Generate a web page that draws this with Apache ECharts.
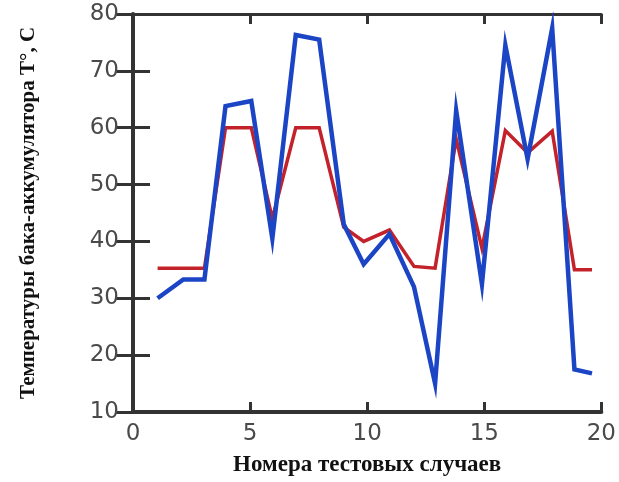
<!DOCTYPE html>
<html>
<head>
<meta charset="utf-8">
<script src="https://cdn.jsdelivr.net/npm/echarts@6/dist/echarts.min.js"></script>
<style>html,body{margin:0;padding:0;background:#fff}#c{width:619px;height:482px}</style>
</head>
<body>
<div id="c"></div>
<script>
// Test case positions
var caseNumbers = [1.05, 2.15, 3.05, 3.95, 5.05, 5.95, 6.95, 7.95, 9.0, 9.85, 10.95, 12.0, 12.9, 13.8, 14.9, 15.9, 16.85, 17.9, 18.85, 19.6];
// Red series
var redValues = [35.3, 35.3, 35.3, 60, 60, 44, 60, 60, 42.5, 40, 42, 35.6, 35.3, 58, 38.8, 59.5, 55.6, 59.4, 35, 35];
// Blue series
var blueValues = [30, 33.3, 33.3, 63.8, 64.7, 40.5, 76.3, 75.5, 43, 36, 41.3, 32, 15, 63, 32.5, 74.5, 54.5, 77.5, 17.5, 16.8];
var xTicks = [0, 5, 10, 15, 20];
var yTicks = [10, 20, 30, 40, 50, 60, 70, 80];
var xTitle = 'Номера тестовых случаев';
var yTitle = 'Температуры бака-аккумулятора T°, C';

function pairs(xs, ys) { return xs.map(function (x, i) { return [x, ys[i]]; }); }

var axisColor = '#333';
var chart = echarts.init(document.getElementById('c'), null, { renderer: 'canvas' });
chart.setOption({
  animation: false,
  backgroundColor: '#fff',
  grid: { left: 133, right: 13, top: 14, bottom: 62, containLabel: false },
  xAxis: [{
    type: 'value', min: xTicks[0], max: xTicks[xTicks.length - 1], interval: 5, position: 'bottom',
    axisLine: { show: true, lineStyle: { color: axisColor, width: 4 } },
    axisTick: { show: true, inside: true, length: 10, lineStyle: { color: axisColor, width: 3 } },
    axisLabel: { color: '#4a4a4a', fontSize: 23, fontFamily: 'DejaVu Sans', margin: 11 },
    splitLine: { show: false },
    name: xTitle, nameLocation: 'middle', nameGap: 42,
    nameTextStyle: { fontFamily: 'Liberation Serif', fontWeight: 'bold', fontSize: 23, color: '#111' }
  }, {
    type: 'value', min: xTicks[0], max: xTicks[xTicks.length - 1], interval: 5, position: 'top',
    axisLine: { show: true, lineStyle: { color: axisColor, width: 3 } },
    axisTick: { show: true, inside: true, length: 10, lineStyle: { color: axisColor, width: 3 } },
    axisLabel: { show: false }, splitLine: { show: false }
  }],
  yAxis: [{
    type: 'value', min: yTicks[0], max: yTicks[yTicks.length - 1], interval: 10, position: 'left',
    axisLine: { show: true, lineStyle: { color: axisColor, width: 4 } },
    axisTick: { show: true, inside: true, length: 17, lineStyle: { color: axisColor, width: 3 } },
    axisLabel: { color: '#4a4a4a', fontSize: 23, fontFamily: 'DejaVu Sans', margin: 14 },
    splitLine: { show: false },
    name: yTitle, nameLocation: 'middle', nameGap: 94, nameRotate: 90,
    nameTextStyle: { fontFamily: 'Liberation Serif', fontWeight: 'bold', fontSize: 21, color: '#111' }
  }, {
    type: 'value', min: yTicks[0], max: yTicks[yTicks.length - 1], interval: 10, position: 'right',
    axisLine: { show: true, lineStyle: { color: axisColor, width: 3 } },
    axisTick: { show: true, inside: true, length: 17, lineStyle: { color: axisColor, width: 3 } },
    axisLabel: { show: false }, splitLine: { show: false }
  }],
  series: [{
    type: 'line', data: pairs(caseNumbers, redValues), showSymbol: false, symbol: 'none',
    lineStyle: { color: '#c4222b', width: 3.5, join: 'miter', miterLimit: 20 }, z: 2
  }, {
    type: 'line', data: pairs(caseNumbers, blueValues), showSymbol: false, symbol: 'none',
    lineStyle: { color: '#1c45c6', width: 4.5, join: 'miter', miterLimit: 20 }, z: 3
  }]
});
</script>
</body>
</html>
